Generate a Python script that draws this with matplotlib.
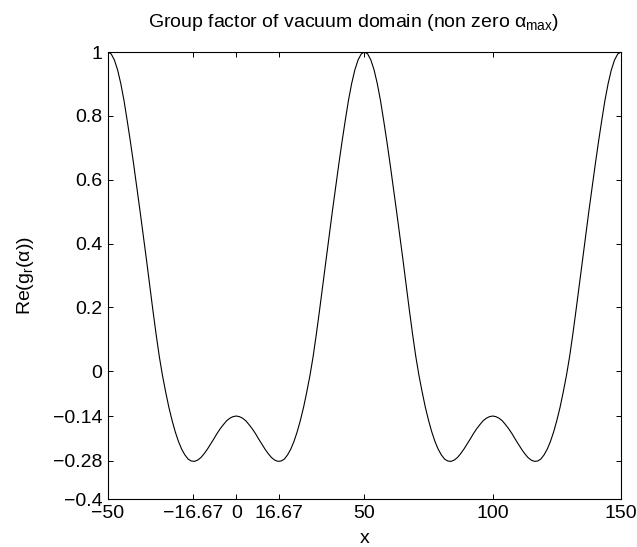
import numpy as np
import matplotlib
matplotlib.use("Agg")
import matplotlib.pyplot as plt

plt.rcParams['font.family'] = ['Liberation Sans', 'DejaVu Sans']
plt.rcParams['mathtext.fontset'] = 'custom'
plt.rcParams['mathtext.rm'] = 'Liberation Sans'
plt.rcParams['mathtext.it'] = 'Liberation Sans'
plt.rcParams['mathtext.sf'] = 'Liberation Sans'
plt.rcParams['axes.unicode_minus'] = True

# sample positions along x, every 1.25
x = np.linspace(-50, 150, 161)

# Re(g_r) at each sample
g_re = [
    # -50 .. 0
    1.000, 0.994, 0.975, 0.944, 0.901, 0.848, 0.785, 0.719, 0.649, 0.576,
    0.502, 0.427, 0.350, 0.270, 0.192, 0.117, 0.047, -0.013, -0.065, -0.113,
    -0.154, -0.190, -0.220, -0.244, -0.262, -0.275, -0.281, -0.282, -0.278, -0.270,
    -0.258, -0.244, -0.228, -0.212, -0.195, -0.180, -0.167, -0.155, -0.147, -0.142,
    -0.140,
    # 0 .. 50
    -0.142, -0.147, -0.155, -0.167, -0.180, -0.195, -0.212, -0.228, -0.244, -0.258,
    -0.270, -0.278, -0.282, -0.281, -0.275, -0.262, -0.244, -0.220, -0.190, -0.154,
    -0.113, -0.065, -0.013, 0.047, 0.117, 0.192, 0.270, 0.350, 0.427, 0.502,
    0.576, 0.649, 0.719, 0.785, 0.848, 0.901, 0.944, 0.975, 0.994, 1.000,
    # 50 .. 100
    0.994, 0.975, 0.944, 0.901, 0.848, 0.785, 0.719, 0.649, 0.576, 0.502,
    0.427, 0.350, 0.270, 0.192, 0.117, 0.047, -0.013, -0.065, -0.113, -0.154,
    -0.190, -0.220, -0.244, -0.262, -0.275, -0.281, -0.282, -0.278, -0.270, -0.258,
    -0.244, -0.228, -0.212, -0.195, -0.180, -0.167, -0.155, -0.147, -0.142, -0.140,
    # 100 .. 150
    -0.142, -0.147, -0.155, -0.167, -0.180, -0.195, -0.212, -0.228, -0.244, -0.258,
    -0.270, -0.278, -0.282, -0.281, -0.275, -0.262, -0.244, -0.220, -0.190, -0.154,
    -0.113, -0.065, -0.013, 0.047, 0.117, 0.192, 0.270, 0.350, 0.427, 0.502,
    0.576, 0.649, 0.719, 0.785, 0.848, 0.901, 0.944, 0.975, 0.994, 1.000,
]

xticks = [-50, -16.67, 0, 16.67, 50, 100, 150]
xtick_labels = ['\u221250', '\u221216.67', '0', '16.67', '50', '100', '150']
yticks = [-0.4, -0.28, -0.14, 0, 0.2, 0.4, 0.6, 0.8, 1]
ytick_labels = ['\u22120.4', '\u22120.28', '\u22120.14', '0', '0.2', '0.4', '0.6', '0.8', '1']

fig = plt.figure(figsize=(6.37, 5.47), dpi=100)
ax = fig.add_axes([0.1695, 0.0877, 0.8053, 0.8172])

ax.plot(x, g_re, color='black', linewidth=0.8)

ax.set_xlim(-50, 150)
ax.set_ylim(-0.4, 1)
ax.set_xticks(xticks)
ax.set_xticklabels(xtick_labels)
ax.set_yticks(yticks)
ax.set_yticklabels(ytick_labels)
ax.tick_params(direction='in', top=True, right=True, length=3.5, width=0.7,
               labelsize=14, pad=4)
for s in ax.spines.values():
    s.set_linewidth(0.8)

ax.set_title(r'Group factor of vacuum domain (non zero $\alpha_{\mathrm{max}}$)',
             fontsize=14, pad=18, x=0.479)
ax.set_xlabel('x', fontsize=14, labelpad=6)
ax.set_ylabel(r'Re(g$_\mathrm{r}$($\alpha$))', fontsize=14, labelpad=12)

fig.savefig('out.png', dpi=100)
